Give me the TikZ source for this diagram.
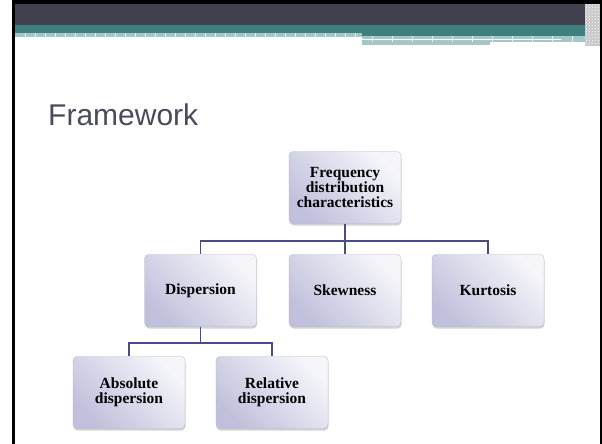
\documentclass[tikz,border=0pt]{standalone}
\usepackage{fontspec}
\setmainfont{Liberation Serif}
\newfontfamily\titlefont{Liberation Sans}
\usetikzlibrary{positioning, shadows, patterns}

\definecolor{bandDark}{HTML}{40404F}
\definecolor{bandTeal}{HTML}{3F7F80}
\definecolor{checkTeal}{HTML}{A3C6C6}
\definecolor{titleGray}{HTML}{4A4A5C}
\definecolor{lineBlue}{HTML}{4B4B85}
\definecolor{boxDark}{HTML}{C0C0DC}
\definecolor{boxLight}{HTML}{F5F5FA}

\tikzset{
  box/.style={rectangle, rounded corners=4pt, minimum width=112pt, minimum height=72pt,
    draw=boxDark!80!gray, line width=0.3pt, top color=boxLight, bottom color=boxDark,
    shading angle=-45, drop shadow={shadow xshift=0.5pt, shadow yshift=-2pt, opacity=0.35},
    align=center, font=\fontsize{15.5}{15}\selectfont\bfseries},
  conn/.style={draw=lineBlue, line width=1.8pt}
}

\begin{document}
\begin{tikzpicture}[x=1pt, y=-1pt]
      \useasboundingbox (0,0) rectangle (602,444);
      % slide frame and header bands
      \fill[black] (12,0) rectangle (602,4);
      \fill[black] (12,0) rectangle (15,444);
      \fill[black] (599.5,0) rectangle (602,444);
      \fill[bandDark] (15,4) rectangle (599.5,25);
      \fill[bandTeal] (15,25) rectangle (585,33);
      \fill[checkTeal] (15,33) rectangle (362,37);
      \fill[bandTeal] (362,33) rectangle (585,36);
      \fill[checkTeal] (362,36) rectangle (585,39);
      \fill[checkTeal] (561,39) rectangle (585,40);
      \fill[checkTeal] (362,40) rectangle (585,42);
      \fill[checkTeal] (362,42) rectangle (490,45);
      \foreach \x in {25,35,...,355}
        \draw[white!70!checkTeal, line width=0.5pt] (\x,33) -- (\x,37);
      \foreach \x in {372,392,...,582}
        \draw[white!70!checkTeal, line width=0.5pt] (\x,36) -- (\x,42);
      \fill[gray!45] (585,4) rectangle (599.5,46);
      \fill[pattern=crosshatch dots, pattern color=white] (585,4) rectangle (599.5,46);

      % title
      \node[anchor=base west, inner sep=0pt, text=titleGray,
        font=\titlefont\fontsize{30}{30}\selectfont] (title) at (48,125) {Framework};

      % tree
      \node[box] (freq) at (345,187.5) {Frequency\\distribution\\characteristics};
      \node[box] (disp) at (200.5,290.5) {Dispersion};
      \node[box] (skew) at (345,290.5) {Skewness};
      \node[box] (kurt) at (488,290.5) {Kurtosis};
      \node[box] (abs) at (129,392.5) {Absolute\\dispersion};
      \node[box] (rel) at (272,392.5) {Relative\\dispersion};

      \draw[conn] (freq.south) -- ++(0,17) -| (disp.north);
      \draw[conn] (freq.south) -- (skew.north);
      \draw[conn] (freq.south) -- ++(0,17) -| (kurt.north);
      \draw[conn] (disp.south) -- ++(0,16) -| (abs.north);
      \draw[conn] (disp.south) -- ++(0,16) -| (rel.north);
\end{tikzpicture}
\end{document}
